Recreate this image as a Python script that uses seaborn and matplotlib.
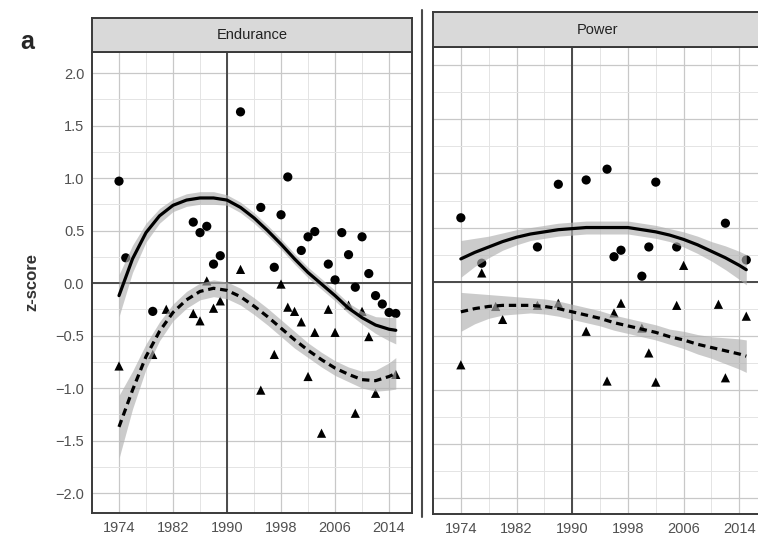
import numpy as np
import pandas as pd
import seaborn as sns
import matplotlib.pyplot as plt
from matplotlib.lines import Line2D
from matplotlib.ticker import FixedLocator, MultipleLocator

# ---- data ----
end_circle_year = [1974, 1975, 1979, 1985, 1986, 1987, 1988, 1989, 1992, 1995, 1997, 1998, 1999,
                   2001, 2002, 2003, 2005, 2006, 2007, 2008, 2009, 2010, 2011, 2012, 2013, 2014, 2015]
end_circle_z = [0.97, 0.24, -0.27, 0.58, 0.48, 0.54, 0.18, 0.26, 1.63, 0.72, 0.15, 0.65, 1.01,
                0.31, 0.44, 0.49, 0.18, 0.03, 0.48, 0.27, -0.04, 0.44, 0.09, -0.12, -0.20, -0.28, -0.29]
end_tri_year = [1974, 1979, 1981, 1985, 1986, 1987, 1988, 1989, 1992, 1995, 1997, 1998, 1999, 2000,
                2001, 2002, 2003, 2004, 2005, 2006, 2008, 2009, 2010, 2011, 2012, 2015]
end_tri_z = [-0.79, -0.68, -0.25, -0.29, -0.36, 0.02, -0.24, -0.17, 0.13, -1.02, -0.68, -0.01, -0.23, -0.27,
             -0.37, -0.89, -0.47, -1.43, -0.25, -0.47, -0.21, -1.24, -0.27, -0.51, -1.05, -0.87]

pow_circle_year = [1974, 1977, 1985, 1988, 1992, 1995, 1996, 1997, 2000, 2001, 2002, 2005, 2012, 2015]
pow_circle_z = [0.59, 0.17, 0.32, 0.90, 0.94, 1.04, 0.23, 0.29, 0.05, 0.32, 0.92, 0.32, 0.54, 0.20]
pow_tri_year = [1974, 1977, 1979, 1980, 1985, 1988, 1992, 1995, 1996, 1997, 2000, 2001, 2002, 2005,
                2006, 2011, 2012, 2015]
pow_tri_z = [-0.77, 0.08, -0.23, -0.35, -0.22, -0.20, -0.46, -0.92, -0.29, -0.20, -0.43, -0.66, -0.93, -0.22,
             0.15, -0.21, -0.89, -0.32]

# smoothed trends (read at these years) and half-width of the grey band
curve_year = [1974, 1976, 1978, 1980, 1982, 1984, 1986, 1988, 1990, 1992, 1994,
              1996, 1998, 2000, 2002, 2004, 2006, 2008, 2010, 2012, 2014, 2015]
end_solid = [-0.12, 0.23, 0.48, 0.64, 0.74, 0.79, 0.81, 0.81, 0.79, 0.72, 0.62,
             0.50, 0.37, 0.23, 0.10, -0.01, -0.12, -0.24, -0.33, -0.40, -0.44, -0.45]
end_solid_band = [0.20, 0.13, 0.09, 0.07, 0.06, 0.06, 0.06, 0.06, 0.05, 0.05, 0.05,
                  0.05, 0.05, 0.05, 0.05, 0.05, 0.05, 0.05, 0.06, 0.08, 0.11, 0.13]
end_dashed = [-1.37, -1.02, -0.70, -0.46, -0.28, -0.16, -0.08, -0.05, -0.07, -0.13, -0.22,
              -0.32, -0.43, -0.54, -0.64, -0.73, -0.81, -0.87, -0.92, -0.93, -0.89, -0.86]
end_dashed_band = [0.30, 0.18, 0.12, 0.09, 0.08, 0.08, 0.08, 0.08, 0.08, 0.08, 0.08,
                   0.08, 0.08, 0.08, 0.07, 0.07, 0.07, 0.07, 0.08, 0.10, 0.13, 0.15]
pow_solid = [0.21, 0.27, 0.32, 0.37, 0.41, 0.44, 0.46, 0.48, 0.49, 0.50, 0.50,
             0.50, 0.50, 0.48, 0.46, 0.43, 0.39, 0.34, 0.28, 0.22, 0.15, 0.11]
pow_solid_band = [0.17, 0.13, 0.10, 0.08, 0.07, 0.06, 0.06, 0.06, 0.06, 0.06, 0.06,
                  0.06, 0.06, 0.06, 0.06, 0.06, 0.07, 0.08, 0.09, 0.11, 0.13, 0.14]
pow_dashed = [-0.28, -0.25, -0.23, -0.22, -0.22, -0.22, -0.23, -0.25, -0.28, -0.31, -0.34,
              -0.38, -0.41, -0.44, -0.47, -0.51, -0.54, -0.58, -0.61, -0.64, -0.67, -0.69]
pow_dashed_band = [0.18, 0.14, 0.11, 0.09, 0.08, 0.07, 0.07, 0.07, 0.07, 0.07, 0.07,
                   0.07, 0.07, 0.07, 0.07, 0.07, 0.08, 0.09, 0.10, 0.12, 0.14, 0.15]

x_ticks = [1974, 1982, 1990, 1998, 2006, 2014]
panel_titles = ["Endurance", "Power"]

sns.set_theme(style="white")
plt.rcParams["font.family"] = ["Liberation Sans", "DejaVu Sans"]

fig = plt.figure(figsize=(7.58, 5.40), dpi=100)
W, H = 758.0, 540.0


def px_rect(x0, y0, x1, y1):
    return [x0 / W, 1 - y1 / H, (x1 - x0) / W, (y1 - y0) / H]


ax_l = fig.add_axes(px_rect(92, 52, 412, 513))
ax_r = fig.add_axes(px_rect(433, 47, 763, 514))
strip_l = fig.add_axes(px_rect(92, 18, 412, 52))
strip_r = fig.add_axes(px_rect(433, 12, 763, 47))

panels = [
    (ax_l, end_circle_year, end_circle_z, end_tri_year, end_tri_z,
     end_solid, end_solid_band, end_dashed, end_dashed_band, (-2.19, 2.2)),
    (ax_r, pow_circle_year, pow_circle_z, pow_tri_year, pow_tri_z,
     pow_solid, pow_solid_band, pow_dashed, pow_dashed_band, (-2.15, 2.17)),
]

for ax, cy, cz, ty, tz, s_line, s_band, d_line, d_band, ylim in panels:
    pts = pd.concat([
        pd.DataFrame({"year": cy, "z": cz, "kind": "circle"}),
        pd.DataFrame({"year": ty, "z": tz, "kind": "triangle"}),
    ])
    ax.set_xlim(1970.0, 2017.4)
    ax.set_ylim(*ylim)
    ax.xaxis.set_major_locator(FixedLocator(x_ticks))
    ax.xaxis.set_minor_locator(FixedLocator([x_ticks[0] - 4] + [t + 4 for t in x_ticks]))
    ax.yaxis.set_major_locator(MultipleLocator(0.5))
    ax.yaxis.set_minor_locator(MultipleLocator(0.25))
    ax.grid(which="major", color="#c8c8c8", lw=0.9)
    ax.grid(which="minor", color="#e4e4e4", lw=0.7)
    ax.set_axisbelow(True)

    ax.axhline(0, color="#4a4a4a", lw=1.4, zorder=1.5)
    ax.axvline(1990, color="#4a4a4a", lw=1.4, zorder=1.5)

    sns.scatterplot(data=pts, x="year", y="z", style="kind",
                    markers={"circle": "o", "triangle": "^"},
                    color="black", s=44, linewidth=0, legend=False, ax=ax, zorder=2)

    yr = np.array(curve_year)
    for line, band in [(s_line, s_band), (d_line, d_band)]:
        v = np.array(line)
        b = np.array(band)
        ax.fill_between(yr, v - b, v + b, color="#b0b0b0", alpha=0.65, lw=0, zorder=3)
    sns.lineplot(x=curve_year, y=s_line, ax=ax, color="black", lw=2.3, zorder=4)
    sns.lineplot(x=curve_year, y=d_line, ax=ax, color="black", lw=2.3,
                 linestyle=(0, (2.3, 1.5)), zorder=4)

    for sp in ax.spines.values():
        sp.set_color("#3a3a3a")
        sp.set_linewidth(1.4)
    ax.tick_params(axis="both", which="major", length=3.5, width=0.9, color="#555555",
                   labelsize=10.5, labelcolor="#505050", pad=2)
    ax.tick_params(which="minor", length=0)
    ax.set_xlabel("")
    ax.set_ylabel("")

ax_r.tick_params(axis="y", which="major", length=0, labelleft=False)

ax_l.set_ylabel("z-score", fontsize=12, fontweight="bold", color="#333333")
ax_l.yaxis.set_label_coords(-0.165, 0.5)

for strip, title in zip([strip_l, strip_r], panel_titles):
    strip.set_xticks([])
    strip.set_yticks([])
    strip.set_facecolor("#d9d9d9")
    for sp in strip.spines.values():
        sp.set_color("#3a3a3a")
        sp.set_linewidth(1.4)
    strip.text(0.5, 0.5, title, ha="center", va="center", fontsize=10.5, color="#222222",
               transform=strip.transAxes)

fig.add_artist(Line2D([421.5 / W, 421.5 / W], [1 - 10 / H, 1 - 517 / H],
                      color="#4a4a4a", lw=1.5))
fig.text(27 / W, 1 - 42 / H, "a", fontsize=18, fontweight="bold", ha="center", va="center")

fig.savefig("out.png", dpi=100)
